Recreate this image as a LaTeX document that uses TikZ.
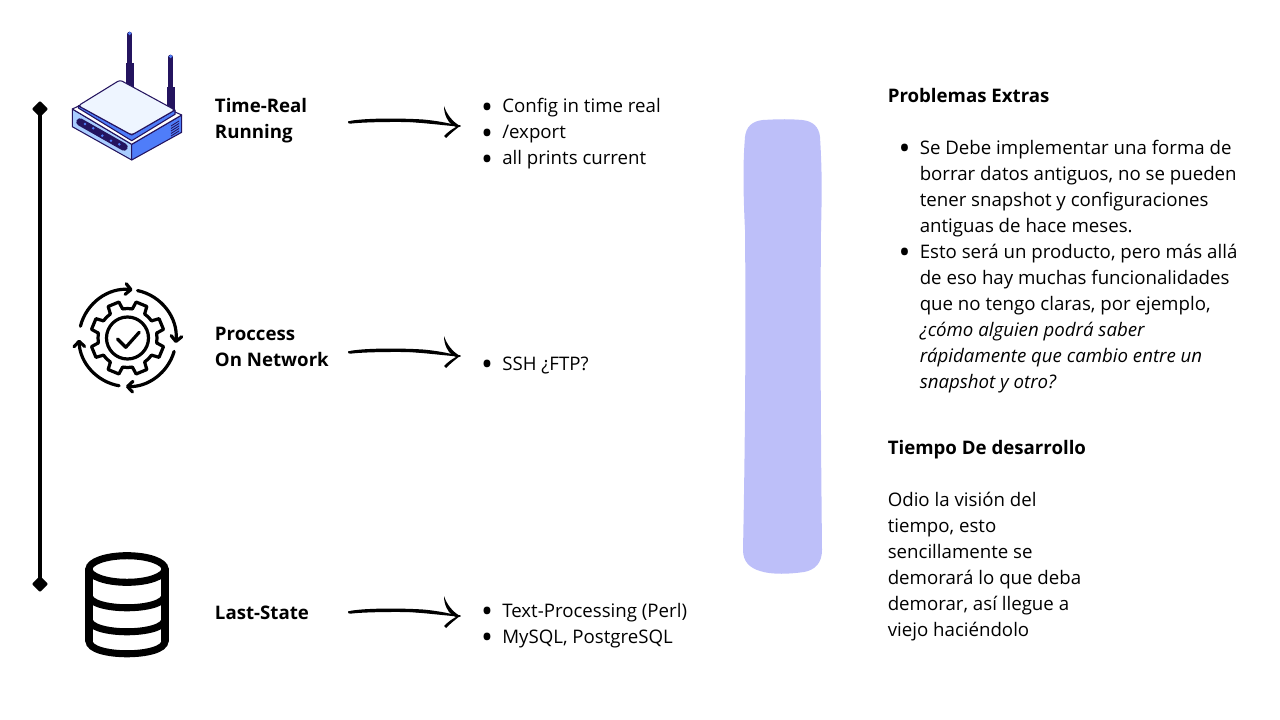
\documentclass[tikz,border=0pt]{standalone}
\usepackage{fontspec}
\setmainfont{Open Sans}
\usetikzlibrary{arrows.meta,shapes.geometric}
\definecolor{navy}{HTML}{24145F}
\definecolor{routerblue}{HTML}{4F7DF9}
\definecolor{routerlight}{HTML}{A9CDFF}
\definecolor{routertop}{HTML}{EEF5FF}
\definecolor{lilac}{HTML}{BDBFF9}
\newcommand{\itm}{\llap{\smash{\raisebox{-3.9pt}{\scalebox{1.7}{\textbullet}}}\hspace{7pt}}}
\tikzset{
  txt/.style={anchor=base west,inner sep=0pt,align=left,font=\fontsize{14}{19.5}\selectfont},
  tick/.style={diamond,fill=black,rounded corners=1pt,inner sep=0pt,minimum size=12.5pt},
  hand/.style={line width=1.2pt,line cap=round},
  gearline/.style={line width=2.4pt,line cap=round,line join=round},
  ringline/.style={gearline,-{Straight Barb[length=4pt,width=8pt,round]}},
  dbline/.style={line width=5.3pt,line cap=round},
  edge/.style={draw=navy,line width=.8pt,line join=round},
}
\begin{document}
\begin{tikzpicture}[x=0.75pt,y=-0.75pt]
\useasboundingbox (0,0) rectangle (1280,720);
\node[tick] (top) at (40,109) {};
\node[tick] (bot) at (40,584) {};
\draw[line width=3pt] (top.center) -- (bot.center);

\draw[navy,line width=3.4pt,line cap=round] (129.7,34) -- (129.7,64);
\draw[navy,line width=3.4pt,line cap=round] (170.7,57) -- (170.7,88);
\fill[navy] (126,63) rectangle (133.5,90);
\fill[navy] (167,87) rectangle (174.5,112);
\fill[routerblue] (129.7,33.5) circle (1.8);
\fill[routerblue] (170.7,56.5) circle (1.8);
\draw[edge,fill=routerlight] (72.3,109) -- (131.7,144.3) -- (131.7,160) -- (72.3,126.7) -- cycle;
\draw[edge,fill=routerblue] (181.7,115) -- (131.7,144.3) -- (131.7,160) -- (181.7,132.3) -- cycle;
\draw[edge,fill=white] (72.3,109) -- (120,87) -- (181.7,115) -- (131.7,144.3) -- cycle;
\draw[navy,line width=5.6pt,line cap=round] (80,122) -- (124,147);
\foreach \x/\y in {85/124,93.3/128.3,102.3/135.7,111/140.7,119.3/144.3}
  \fill[routerblue] (\x,\y) circle (1.4);
\foreach \y in {124,126.5,...,136}
  \draw[navy,line width=.6pt] (171,\y+2) -- (179,\y-3);
\draw[edge,fill=routerblue] (78.3,105.7) -- (78.3,108) -- (131.7,140.7) -- (175,114.3) -- (175,110) -- (131.7,135) -- cycle;
\draw[edge,fill=routertop,rounded corners=2pt] (120,80) -- (175,110) -- (131.7,135) -- (78.3,105.7) -- cycle;

\begin{scope}[shift={(127.5,338)},y=0.75pt]
\draw[ringline] (166:48.5) arc (166:84:48.5);
\draw[ringline] (78:48.5) arc (78:-6:48.5);
\draw[ringline] (-16:48.5) arc (-16:-92:48.5);
\draw[ringline] (-100:48.5) arc (-100:-178:48.5);
\foreach \a in {22.5,67.5,...,337.5}{
  \draw[gearline] (\a-13:29.5) -- (\a-9:37) -- (\a+9:37) -- (\a+13:29.5);
  \draw[gearline] (\a+13:29.5) arc (\a+13:\a+32:29.5);
}
\draw[gearline] (0,0) circle (21);
\draw[gearline] (-10,-1) -- (-1.7,-9.3) -- (11.7,5.7);
\end{scope}

\draw[dbline] (127,569) ellipse (38 and 13.3);
\draw[dbline] (89,569) -- (89,641);
\draw[dbline] (165,569) -- (165,641);
\foreach \y in {595,619,641}
  \draw[dbline] (89,\y) .. controls (89,\y+17) and (165,\y+17) .. (165,\y);

\node[txt] (lbltime) at (214.7,139) {\textbf{Time-Real}\\\textbf{Running}};
\node[txt] (lblproc) at (214.7,366) {\textbf{Proccess}\\\textbf{On Network}};
\node[txt] (lblstate) at (214.7,619) {\textbf{Last-State}};
\node[txt] (lsttime) at (502,165) {\itm Config in time real\\\itm /export\\\itm all prints current};
\node[txt] (lstproc) at (502,370) {\itm SSH ¿FTP?};
\node[txt] (lststate) at (502,643) {\itm Text-Processing (Perl)\\\itm MySQL, PostgreSQL};

\coordinate (s1) at (349,122); \coordinate (e1) at (460,126);
\coordinate (s2) at (349,352); \coordinate (e2) at (460,356);
\coordinate (s3) at (349,612); \coordinate (e3) at (460,616);
\foreach \n in {1,2,3}{
  \draw[hand] (s\n) .. controls +(40,-4) and +(-50,-5) .. (e\n);
  \begin{scope}[shift={(e\n)}]
  \fill (-112,-4.5) .. controls (-100,-8) and (-60,-8) .. (-37,-6.5) .. controls (-20,-5) and (-8,-2) .. (0,0)
    .. controls (-10,-1.5) and (-25,-3) .. (-37,-3.5) .. controls (-60,-4.5) and (-95,-4) .. (-108,-2.5)
    .. controls (-111,-2) and (-113,-3) .. (-112,-4.5) -- cycle;
  \fill (0,0) .. controls (-7,-4) and (-13,-11) .. (-16,-20) .. controls (-16,-11) and (-12,-4) .. (-8,-1) -- (-4,1)
    .. controls (-8,3) and (-12,6) .. (-16,10) -- (-14,12) .. controls (-9,7) and (-4,3) .. (0,0) -- cycle;
  \end{scope}
}

\fill[lilac] (763,120) .. controls (780,119) and (790,119) .. (802,120)
  .. controls (813,121) and (819,127) .. (820,137)
  .. controls (822,170) and (822,190) .. (821,230)
  .. controls (820,340) and (821,450) .. (822,550)
  .. controls (822,563) and (815,570) .. (804,572)
  .. controls (790,574) and (772,575) .. (760,571)
  .. controls (750,568) and (743,562) .. (743,550)
  .. controls (745,450) and (746,340) .. (745,230)
  .. controls (743,190) and (743,160) .. (745,137)
  .. controls (746,127) and (752,121) .. (763,120) -- cycle;

\node[txt] (headextra) at (887.5,103) {\textbf{Problemas Extras}};
\node[txt] (extras) at (919.5,388) {\itm Se Debe implementar una forma de\\borrar datos antiguos, no se pueden\\tener snapshot y configuraciones\\antiguas de hace meses.\\\itm Esto será un producto, pero más allá\\de eso hay muchas funcionalidades\\que no tengo claras, por ejemplo,\\\textit{¿cómo alguien podrá saber}\\\textit{rápidamente que cambio entre un}\\\textit{snapshot y otro?}};
\node[txt] (headtime) at (887.5,454) {\textbf{Tiempo De desarrollo}};
\node[txt] (timetext) at (887.5,636) {Odio la visión del\\tiempo, esto\\sencillamente se\\demorará lo que deba\\demorar, así llegue a\\viejo haciéndolo};
\end{tikzpicture}
\end{document}
